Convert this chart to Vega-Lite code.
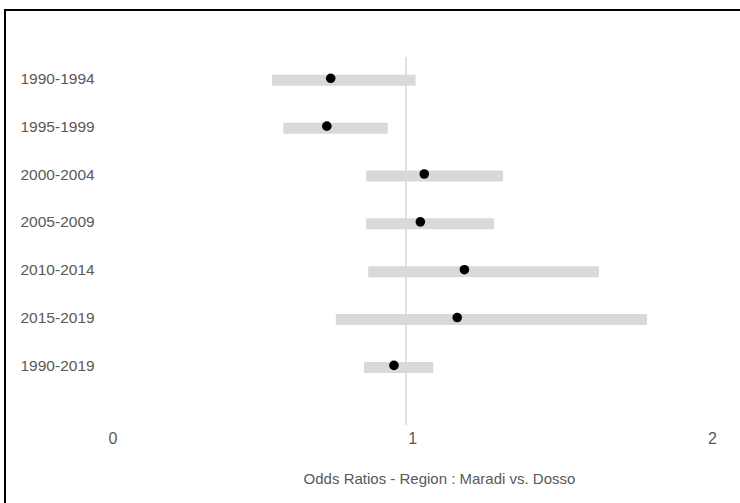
{
  "$schema": "https://vega.github.io/schema/vega-lite/v6.json",
  "width": 738,
  "height": 496,
  "autosize": "none",
  "padding": {"left": 5, "top": 10, "right": -3, "bottom": -3},
  "background": "white",
  "config": {
    "view": {"stroke": "#000000", "strokeWidth": 2},
    "font": "Liberation Sans, Arial, sans-serif"
  },
  "datasets": {
    "estimates": [
      {"period": "1990-1994", "or": 0.728, "lo": 0.532, "hi": 1.011},
      {"period": "1995-1999", "or": 0.715, "lo": 0.570, "hi": 0.918},
      {"period": "2000-2004", "or": 1.040, "lo": 0.846, "hi": 1.303},
      {"period": "2005-2009", "or": 1.027, "lo": 0.846, "hi": 1.273},
      {"period": "2010-2014", "or": 1.174, "lo": 0.853, "hi": 1.623},
      {"period": "2015-2019", "or": 1.150, "lo": 0.745, "hi": 1.783},
      {"period": "1990-2019", "or": 0.939, "lo": 0.839, "hi": 1.070}
    ],
    "reference": [{"ref": 0.979, "top": "1990-1994", "bottom": "1990-2019"}]
  },
  "layer": [
    {
      "data": {"name": "reference"},
      "mark": {"type": "rule", "color": "#d9d9d9", "strokeWidth": 1.5, "yOffset": -21.3, "y2Offset": 59.7},
      "encoding": {
        "x": {
          "field": "ref",
          "type": "quantitative",
          "scale": {"domain": [-0.3586, 2.1034], "nice": false, "zero": false},
          "axis": {
            "values": [0, 1, 2],
            "format": "d",
            "grid": false,
            "domain": false,
            "ticks": false,
            "tickSize": 0,
            "labelPadding": 0,
            "labelBaseline": "middle",
            "offset": -67.7,
            "labelFontSize": 16,
            "labelColor": "#595959",
            "title": "Odds Ratios - Region : Maradi vs. Dosso",
            "titleFontSize": 15,
            "titleFontWeight": "normal",
            "titleColor": "#595959",
            "titleX": 434,
            "titleY": 45,
            "titleAlign": "center",
            "titleBaseline": "alphabetic"
          }
        },
        "y": {
          "field": "top",
          "type": "ordinal",
          "sort": null,
          "scale": {
            "type": "point",
            "domain": ["", "1990-1994", "1995-1999", "2000-2004", "2005-2009", "2010-2014", "2015-2019", "1990-2019", " ", "  "],
            "padding": 0.683,
            "align": 0.313
          },
          "axis": {
            "title": null,
            "grid": false,
            "domain": false,
            "ticks": false,
            "tickSize": 0,
            "labelPadding": 0,
            "labelAlign": "left",
            "labelBaseline": "middle",
            "offset": -15,
            "labelFontSize": 15.5,
            "labelColor": "#595959"
          }
        },
        "y2": {"field": "bottom"}
      }
    },
    {
      "data": {"name": "estimates"},
      "mark": {"type": "rule", "color": "#d9d9d9", "strokeWidth": 11, "strokeCap": "butt", "yOffset": 2},
      "encoding": {
        "y": {"field": "period", "type": "ordinal", "sort": null},
        "x": {"field": "lo", "type": "quantitative"},
        "x2": {"field": "hi"}
      }
    },
    {
      "data": {"name": "estimates"},
      "mark": {"type": "point", "filled": true, "color": "#000000", "size": 92, "opacity": 1},
      "encoding": {
        "y": {"field": "period", "type": "ordinal", "sort": null},
        "x": {"field": "or", "type": "quantitative"}
      }
    }
  ]
}
